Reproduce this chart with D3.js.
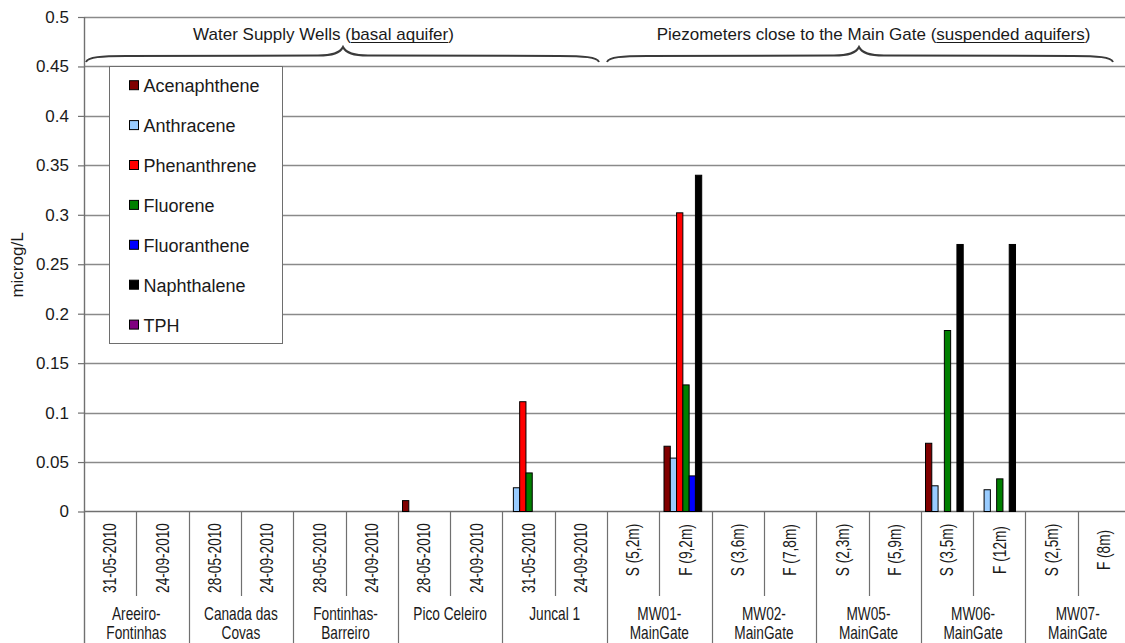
<!DOCTYPE html>
<html>
<head>
<meta charset="utf-8">
<script src="https://cdn.jsdelivr.net/npm/d3@7"></script>
<style>
  html, body { margin: 0; padding: 0; background: #fff; }
  svg { display: block; font-family: "Liberation Sans", Arial, sans-serif; }
</style>
</head>
<body>
<svg id="chart" width="1125" height="643"></svg>
<script>
// ---------------- DATA ----------------
const categories = ["31-05-2010","24-09-2010","28-05-2010","24-09-2010","28-05-2010","24-09-2010",
  "28-05-2010","24-09-2010","31-05-2010","24-09-2010","S (5,2m)","F (9,2m)","S (3,6m)","F (7,8m)",
  "S (2,3m)","F (5,9m)","S (3,5m)","F (12m)","S (2,5m)","F (8m)"];
const groups = [["Areeiro-","Fontinhas"],["Canada das","Covas"],["Fontinhas-","Barreiro"],["Pico Celeiro"],
  ["Juncal 1"],["MW01-","MainGate"],["MW02-","MainGate"],["MW05-","MainGate"],["MW06-","MainGate"],["MW07-","MainGate"]];
const seriesNames = ["Acenaphthene","Anthracene","Phenanthrene","Fluorene","Fluoranthene","Naphthalene","TPH"];
const seriesColors = ["#800000","#99CCFF","#FF0000","#008000","#0000FF","#000000","#800080"];
const acenaphthene = [0,0,0,0,0,0,0.011,0,0,0,0,0.066,0,0,0,0,0.069,0,0,0];
const anthracene   = [0,0,0,0,0,0,0,0,0.024,0,0,0.054,0,0,0,0,0.026,0.022,0,0];
const phenanthrene = [0,0,0,0,0,0,0,0,0.111,0,0,0.302,0,0,0,0,0,0,0,0];
const fluorene     = [0,0,0,0,0,0,0,0,0.039,0,0,0.128,0,0,0,0,0.183,0.033,0,0];
const fluoranthene = [0,0,0,0,0,0,0,0,0,0,0,0.036,0,0,0,0,0,0,0,0];
const naphthalene  = [0,0,0,0,0,0,0,0,0,0,0,0.340,0,0,0,0,0.270,0.270,0,0];
const tph          = [0,0,0,0,0,0,0,0,0,0,0,0,0,0,0,0,0,0,0,0];
const yTicks = [0,0.05,0.1,0.15,0.2,0.25,0.3,0.35,0.4,0.45,0.5];
const yTitle = "microg/L";
const bracketTitles = [
  {pre:"Water Supply Wells (", under:"basal aquifer", post:")"},
  {pre:"Piezometers close to the Main Gate (", under:"suspended aquifers", post:")"}
];

// ---------------- LAYOUT ----------------
const W = 1125, H = 643;
const left = 84, catW = 52.3;
const svg = d3.select("#chart");
const allSeries = [acenaphthene, anthracene, phenanthrene, fluorene, fluoranthene, naphthalene, tph];

const x = d3.scaleBand().domain(d3.range(categories.length))
  .range([left, left + catW * categories.length]).padding(0);
const xs = d3.scaleBand().domain(seriesNames).range([4.7, 48.7]).padding(0);
const y = d3.scaleLinear().domain([0, 0.5]).range([511.5, 17]);

const gridColor = "#8a8a8a", axisColor = "#707070", textColor = "#1a1a1a";

// gridlines
svg.append("g").selectAll("line").data(yTicks.filter(d => d > 0)).join("line")
  .attr("x1", left).attr("x2", W)
  .attr("y1", d => Math.round(y(d)) + 0.5).attr("y2", d => Math.round(y(d)) + 0.5)
  .attr("stroke", gridColor).attr("stroke-width", 1.4);

// y axis
const yAxis = d3.axisLeft(y).tickValues(yTicks).tickSize(6).tickPadding(9)
  .tickFormat(d => String(+d.toFixed(2)));
const gy = svg.append("g").attr("transform", `translate(${left},0)`).call(yAxis);
gy.select(".domain").remove();
gy.selectAll(".tick line").attr("stroke", axisColor).attr("stroke-width", 1.2);
gy.selectAll(".tick text").attr("font-size", 17).attr("fill", textColor)
  .attr("font-family", '"Liberation Sans", Arial, sans-serif');
svg.append("line").attr("x1", left + 0.5).attr("x2", left + 0.5).attr("y1", y(0.5)).attr("y2", H)
  .attr("stroke", axisColor).attr("stroke-width", 1.4);

// baseline
svg.append("line").attr("x1", left).attr("x2", W).attr("y1", 511.5).attr("y2", 511.5)
  .attr("stroke", axisColor).attr("stroke-width", 1.4);

// y title
svg.append("text").attr("transform", "translate(23,265) rotate(-90)")
  .attr("text-anchor", "middle").attr("font-size", 17).attr("fill", textColor).text(yTitle);

// bars
const barData = [];
allSeries.forEach((arr, si) => arr.forEach((v, ci) => { if (v > 0) barData.push({si, ci, v}); }));
svg.append("g").selectAll("rect").data(barData).join("rect")
  .attr("x", d => x(d.ci) + xs(seriesNames[d.si]))
  .attr("width", xs.bandwidth())
  .attr("y", d => y(d.v))
  .attr("height", d => y(0) - y(d.v))
  .attr("fill", d => seriesColors[d.si])
  .attr("stroke", "#000").attr("stroke-width", 1);

// x axis dividers
const gx = svg.append("g");
for (let i = 1; i <= categories.length; i++) {
  const xx = Math.round(x(0) + i * catW) + 0.5;
  const groupEdge = i % 2 === 0;
  gx.append("line").attr("x1", xx).attr("x2", xx).attr("y1", 511.5).attr("y2", groupEdge ? H : 596)
    .attr("stroke", axisColor).attr("stroke-width", 1.2);
}
// category labels (rotated, condensed)
gx.selectAll("text.cat").data(categories).join("text").attr("class", "cat")
  .attr("transform", (d, i) => `translate(${x(i) + catW / 2},${i < 10 ? 558 : 550}) rotate(-90) scale(0.76,1)`)
  .attr("text-anchor", "middle").attr("dy", "0.35em")
  .attr("font-size", 18).attr("fill", textColor).text(d => d);
// group labels
groups.forEach((lines, gi) => {
  const cx = x(gi * 2) + catW;
  lines.forEach((ln, li) => {
    gx.append("text").attr("transform", `translate(${cx},${620 + li * 19}) scale(0.76,1)`)
      .attr("text-anchor", "middle").attr("font-size", 18).attr("fill", textColor).text(ln);
  });
});

// brackets
function bracePath(x0, x1, tip) {
  const ya = 56, yt = 47, ye = 62;
  return `M${x0},${ye} C${x0 + 2},${ya + 1} ${x0 + 15},${ya} ${x0 + 40},${ya} ` +
         `L${tip - 25},${ya - 0.5} C${tip - 10},${ya - 0.5} ${tip - 3},${ya - 3} ${tip},${yt} ` +
         `C${tip + 3},${ya - 3} ${tip + 10},${ya - 0.5} ${tip + 25},${ya - 0.5} ` +
         `L${x1 - 40},${ya} C${x1 - 15},${ya} ${x1 - 2},${ya + 1} ${x1},${ye}`;
}
const braces = [{x0: 86, x1: 599, tip: 343, tx: 323.5}, {x0: 607, x1: 1113, tip: 859, tx: 873.5}];
braces.forEach((b, i) => {
  svg.append("path").attr("d", bracePath(b.x0, b.x1, b.tip)).attr("fill", "none")
    .attr("stroke", "#3a3a3a").attr("stroke-width", 2);
  const t = bracketTitles[i];
  const txt = svg.append("text").attr("x", b.tx).attr("y", 40).attr("text-anchor", "middle")
    .attr("font-size", 17).attr("fill", textColor);
  txt.append("tspan").text(t.pre);
  txt.append("tspan").text(t.under);
  txt.append("tspan").text(t.post);
  const node = txt.node();
  const s = t.pre.length, e = t.pre.length + t.under.length - 1;
  const sx = node.getStartPositionOfChar(s).x;
  const ex = node.getEndPositionOfChar(e).x;
  svg.append("line").attr("x1", sx).attr("x2", ex).attr("y1", 42.5).attr("y2", 42.5)
    .attr("stroke", textColor).attr("stroke-width", 1);
});

// legend
const lg = svg.append("g");
lg.append("rect").attr("x", 109.5).attr("y", 66.5).attr("width", 173).attr("height", 277)
  .attr("fill", "#fff").attr("stroke", "#6e6e6e").attr("stroke-width", 1);
seriesNames.forEach((n, i) => {
  const cy = 85.7 + i * 39.9;
  lg.append("rect").attr("x", 129.5).attr("y", cy - 5).attr("width", 9).attr("height", 9)
    .attr("fill", seriesColors[i]).attr("stroke", "#000").attr("stroke-width", 1);
  lg.append("text").attr("x", 143.5).attr("y", cy).attr("dy", "0.36em")
    .attr("font-size", 18).attr("fill", textColor).text(n);
});
</script>
</body>
</html>
